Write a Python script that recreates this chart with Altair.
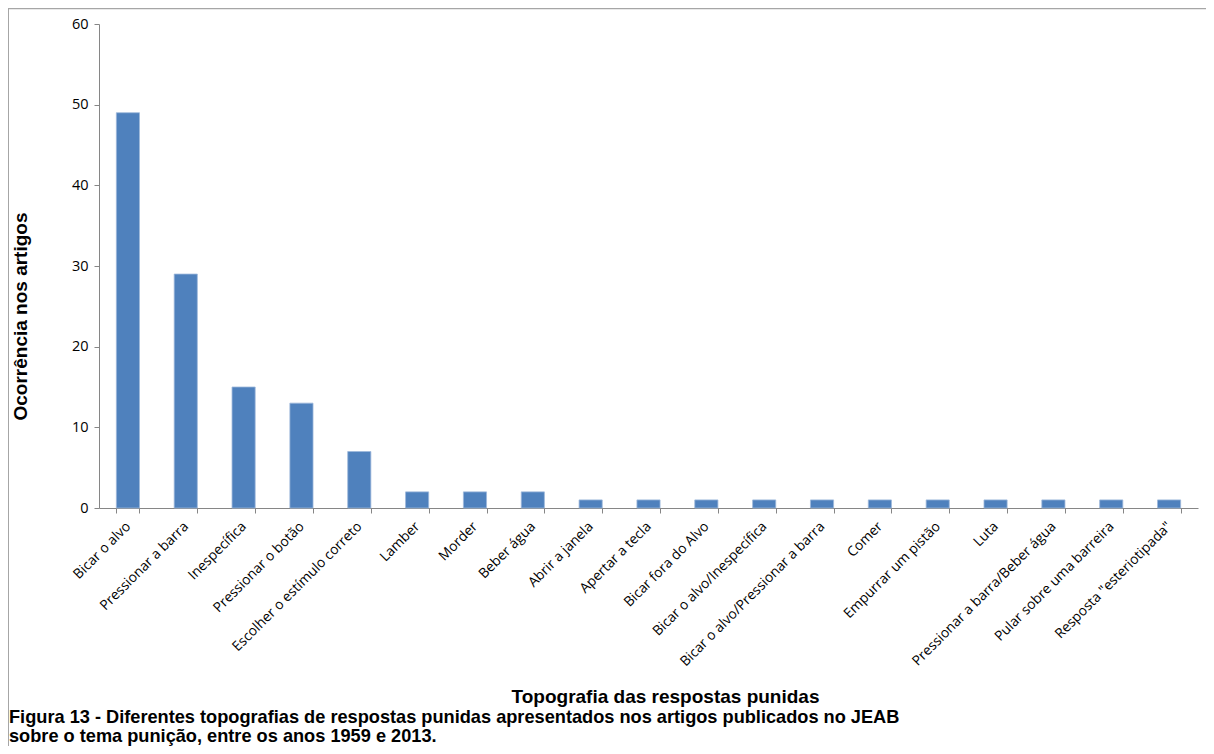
import altair as alt
import pandas as pd

categories = [
    "Bicar o alvo", "Pressionar a barra", "Inespecífica", "Pressionar o botão",
    "Escolher o estímulo correto", "Lamber", "Morder", "Beber água",
    "Abrir a janela", "Apertar a tecla", "Bicar fora do Alvo",
    "Bicar o alvo/Inespecífica", "Bicar o alvo/Pressionar a barra", "Comer",
    "Empurrar um pistão", "Luta", "Pressionar a barra/Beber água",
    "Pular sobre uma barreira", 'Resposta "esteriotipada"',
]
values = [49, 29, 15, 13, 7, 2, 2, 2, 1, 1, 1, 1, 1, 1, 1, 1, 1, 1, 1]
y_ticks = [0, 10, 20, 30, 40, 50, 60]
x_title = "Topografia das respostas punidas"
y_title = "Ocorrência nos artigos"
caption_lines = [
    "Figura 13 - Diferentes topografias de respostas punidas apresentados nos artigos publicados no JEAB",
    "sobre o tema punição, entre os anos 1959 e 2013.",
]

df = pd.DataFrame({"cat": categories, "val": values})

W, H = 1099, 484
LEFT, TOP = 91, 16
TITLE_FONT = "Liberation Sans"
TITLE_SIZE = 19
CAPTION_SIZE = 18.2

bars = alt.Chart(df).mark_bar(
    color="#4F81BD", stroke="#9DB8DB", strokeWidth=0.8
).encode(
    x=alt.X(
        "cat:N", sort=categories,
        scale=alt.Scale(paddingInner=0.6, paddingOuter=0.3),
        axis=alt.Axis(
            title=x_title, labelAngle=-45, labelAlign="right", labelBaseline="middle",
            labelFont="Open Sans", labelFontSize=13.8, labelColor="#000000",
            labelPadding=11, labelOverlap=False, labelLimit=300,
            tickBand="extent", tickSize=5, tickColor="#868686", grid=False,
            domainColor="#868686", domainWidth=1,
            titleFont=TITLE_FONT, titleFontSize=TITLE_SIZE, titleFontWeight="bold",
            titleColor="#000000", titleX=566, titleY=188, titleAlign="center",
            titleBaseline="middle",
        ),
    ),
    y=alt.Y(
        "val:Q",
        scale=alt.Scale(domain=[0, 60], nice=False),
        axis=alt.Axis(
            title=y_title, values=y_ticks, grid=False,
            labelFont="Open Sans", labelFontSize=14.5, labelColor="#000000",
            labelPadding=6, tickSize=5, tickColor="#868686",
            domainColor="#868686", domainWidth=1,
            titleFont=TITLE_FONT, titleFontSize=TITLE_SIZE, titleFontWeight="bold",
            titleColor="#000000", titleX=-79, titleY=292, titleAlign="center",
            titleBaseline="middle", titleAngle=-90,
        ),
    ),
)

frame_top = alt.Chart(pd.DataFrame({"a": [0]})).mark_rule(color="#A6A6A6", strokeWidth=1.5).encode(
    x=alt.value(-LEFT), x2=alt.value(W + 8), y=alt.value(-TOP + 0.5)
)
frame_left = alt.Chart(pd.DataFrame({"a": [0]})).mark_rule(color="#A6A6A6", strokeWidth=1).encode(
    x=alt.value(-LEFT + 0.5), y=alt.value(-TOP), y2=alt.value(H + 238)
)

cap1 = alt.Chart(pd.DataFrame({"t": [caption_lines[0]]})).mark_text(
    align="left", baseline="middle", font=TITLE_FONT, fontSize=CAPTION_SIZE,
    fontWeight="bold", color="#000000"
).encode(text="t:N", x=alt.value(-LEFT + 1), y=alt.value(718 - 24))
cap2 = alt.Chart(pd.DataFrame({"t": [caption_lines[1]]})).mark_text(
    align="left", baseline="middle", font=TITLE_FONT, fontSize=CAPTION_SIZE,
    fontWeight="bold", color="#000000"
).encode(text="t:N", x=alt.value(-LEFT + 1), y=alt.value(737 - 24))

chart = alt.layer(frame_top, frame_left, bars, cap1, cap2).properties(
    width=W, height=H,
    background="#FFFFFF",
    autosize=alt.AutoSizeParams(type="none"),
    padding={"left": LEFT, "top": TOP, "right": 8, "bottom": 238},
).configure_view(stroke=None, strokeWidth=0)

chart.save("out.html", embed_options={"renderer": "svg", "actions": False})
